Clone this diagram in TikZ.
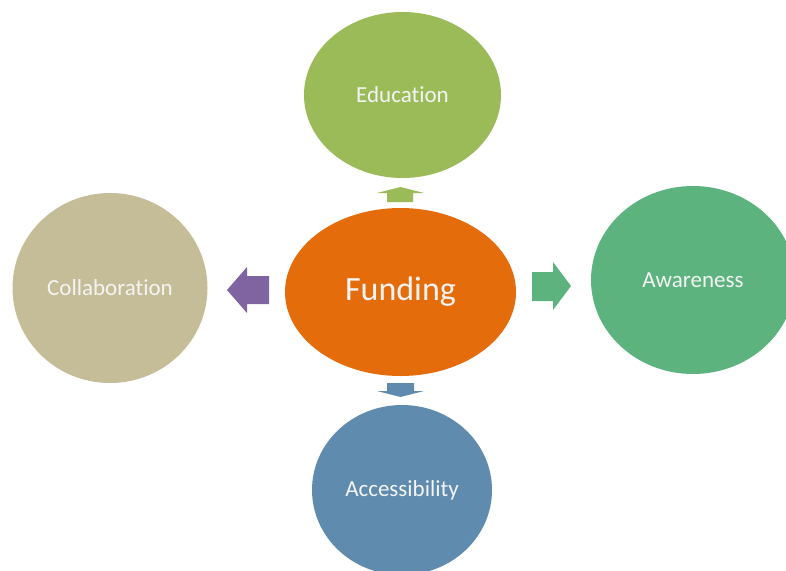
\documentclass[tikz,border=0pt]{standalone}
\usepackage{fontspec}
\setmainfont[Ligatures=NoCommon]{Carlito}
\definecolor{edu}{HTML}{9BBB59}
\definecolor{fund}{HTML}{E46C0A}
\definecolor{coll}{HTML}{C4BD97}
\definecolor{aware}{HTML}{5DB37E}
\definecolor{access}{HTML}{5F8BAE}
\definecolor{purp}{HTML}{8064A2}
\definecolor{label}{HTML}{F4F4F4}
\tikzset{
  bubble/.style={ellipse, inner sep=0pt, text=label, font=\fontsize{23}{27}\selectfont},
}
\usetikzlibrary{shapes.geometric}
\begin{document}
\begin{tikzpicture}[x=1pt, y=-1pt]
\useasboundingbox (0,0) rectangle (786,570);
\clip (0,0) rectangle (786,570);
% circles
\node[bubble, fill=edu, minimum width=197pt, minimum height=166pt] (edu) at (402.5,95) {Education};
\node[bubble, fill=fund, minimum width=231pt, minimum height=168pt, font=\fontsize{34}{40}\selectfont] (fund) at (400.5,292) {Funding};
\node[bubble, fill=coll, minimum width=195pt, minimum height=190pt] (coll) at (110,288) {Collaboration};
\node[bubble, fill=aware, minimum width=204pt, minimum height=188pt] (aware) at (693,280) {Awareness};
\node[bubble, fill=access, minimum width=180pt, minimum height=170pt] (access) at (402,490) {Accessibility};
% block arrows pointing out of the centre
\fill[edu] (387,202) -- (387,193) -- (377,193) -- (400.5,187) -- (424,193) -- (413,193) -- (413,202) -- cycle;
\fill[access] (387,383) -- (387,391) -- (377,391) -- (400.5,397) -- (424,391) -- (414,391) -- (414,383) -- cycle;
\fill[purp] (269,276) -- (247,276) -- (247,267) -- (227,290) -- (247,313) -- (247,304) -- (269,304) -- cycle;
\fill[aware] (532,272) -- (553,272) -- (553,262) -- (571,286) -- (553,310) -- (553,301) -- (532,301) -- cycle;
\end{tikzpicture}
\end{document}
